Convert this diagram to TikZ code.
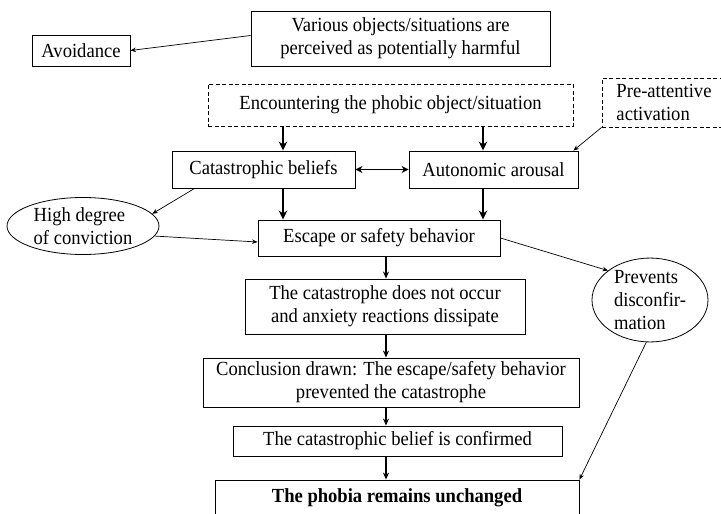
\documentclass[tikz,border=0pt]{standalone}
\usepackage{fontspec}
\setmainfont{Liberation Serif}[FakeStretch=0.93]
\usetikzlibrary{shapes.geometric,arrows.meta}
\begin{document}
\begin{tikzpicture}[x=1pt, y=-1pt, font=\fontsize{20}{23}\selectfont, >={Stealth[length=5.5pt,width=4.5pt]},
		box/.style 2 args={draw, line width=0.9pt, minimum width=#1, minimum height=#2, inner sep=0pt, align=center},
		dbox/.style 2 args={box={#1}{#2}, dash pattern=on 4pt off 2.5pt},
		oval/.style 2 args={draw, ellipse, line width=0.8pt, minimum width=#1, minimum height=#2, inner sep=0pt, align=left},
		thin arrow/.style={->, line width=0.7pt},
		mid arrow/.style={-{Stealth[length=7pt,width=6pt]}, line width=1.4pt},
		thick arrow/.style={-{Stealth[length=9pt,width=8.5pt]}, line width=2.6pt}]
			\clip (0,0) rectangle (721,514);
			\path (283,0) coordinate (L) (483,0) coordinate (Q) (386,0) coordinate (M);
			\node[box={299pt}{55pt}] (V) at (400.5,38.5) {Various objects/situations are\\perceived as potentially harmful};
			\node[box={98pt}{31pt}] (A) at (81,50.5) {Avoidance};
			\node[dbox={365pt}{42pt}] (E) at (390.5,105) {Encountering the phobic object/situation};
			\node[dbox={124pt}{49pt}, align=left] (P) at (664,102.5) {Pre-attentive\\activation};
			\node[box={183pt}{37pt}] (C) at (263.5,169.5) {Catastrophic beliefs};
			\node[box={169pt}{37pt}] (R) at (493.5,169.5) {Autonomic arousal};
			\node[oval={152pt}{57pt}] (H) at (83,226) {High degree\\of conviction};
			\node[box={242pt}{36pt}] (S) at (379,238) {Escape or safety behavior};
			\node[oval={116pt}{79pt}] (D) at (650,300) {Prevents\\disconfir-\\mation};
			\node[box={280pt}{55pt}] (N) at (385,306.5) {The catastrophe does not occur\\and anxiety reactions dissipate};
			\node[box={376pt}{49pt}] (K) at (391,382.5) {Conclusion drawn: The escape/safety behavior\\prevented the catastrophe};
			\node[box={329pt}{30pt}] (B) at (397.5,441) {The catastrophic belief is confirmed};
			\node[box={364pt}{36pt}, font=\fontsize{20}{23}\selectfont\bfseries] (U) at (397,498) {The phobia remains unchanged};
			\foreach \a/\b/\c in {E/C/L, E/R/Q, C/S/L, R/S/Q}{
			\draw[thick arrow] (\a.south -| \c) -- (\b.north -| \c);
			}
			\draw[{Stealth[length=7pt,width=7pt]}-{Stealth[length=7pt,width=7pt]}, line width=1.8pt] (C) -- (R);
			\foreach \a/\b in {S/N, N/K, K/B, B/U}{
			\draw[mid arrow] (\a.south -| M) -- (\b.north -| M);
			}
			\draw[thin arrow] ([yshift=3pt]V.west) -- (A.east);
			\draw[thin arrow] (P.south west) -- ([xshift=-5pt]R.north east);
			\draw[thin arrow] ([xshift=23pt]C.south west) -- (H.10);
			\draw[thin arrow] (H.-8) -- ([yshift=-4pt]S.west);
			\draw[thin arrow] (S.east) -- (D.145);
			\draw[thin arrow] (D.265) -- (U.north east);
		\end{tikzpicture}
\end{document}
